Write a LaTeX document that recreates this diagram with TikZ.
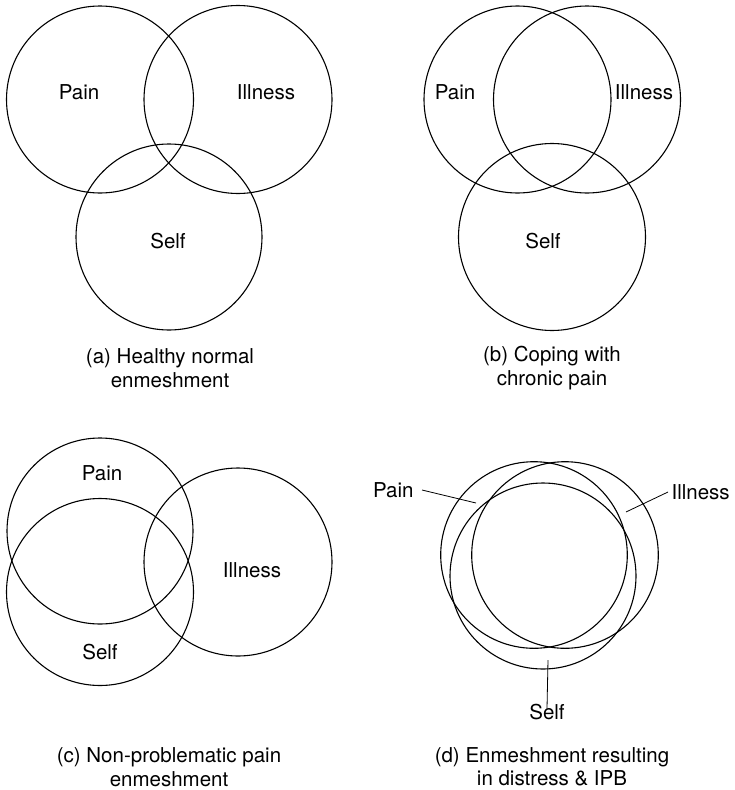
\documentclass[tikz,border=0pt]{standalone}
\usepackage{fontspec}
\setmainfont{TeX Gyre Heros}
\usetikzlibrary{positioning}

\begin{document}
\begin{tikzpicture}[x=1pt, y=-1pt, line width=1.1pt,
  lbl/.style={inner sep=0pt, font=\fontsize{20.5}{23.5}\selectfont},
  caption/.style={lbl, align=center}]

  \useasboundingbox (0,0) rectangle (734,790);

  % (a) Healthy normal enmeshment
  \draw (100,99.5) circle (93.5);
  \draw (238,99.5) circle (94);
  \draw (169,237) circle (93);
  \node[lbl] (painA) at (79,92) {Pain};
  \node[lbl] (illA) at (266,92) {Illness};
  \node[lbl] (selfA) at (168,241) {Self};
  \node[caption] (capA) at (170,368) {(a) Healthy normal\\enmeshment};

  % (b) Coping with chronic pain
  \draw (517.5,99.5) circle (93.5);
  \draw (587,99.5) circle (93.5);
  \draw (552,237) circle (93.5);
  \node[lbl] (painB) at (455,92) {Pain};
  \node[lbl] (illB) at (644,92) {Illness};
  \node[lbl] (selfB) at (543,241) {Self};
  \node[caption] (capB) at (552,368) {(b) Coping with\\chronic pain};

  % (c) Non-problematic pain enmeshment
  \draw (100,531) circle (93);
  \draw (100,592) circle (93.5);
  \draw (238,562) circle (94);
  \node[lbl] (painC) at (102,473) {Pain};
  \node[lbl] (illC) at (252,570) {Illness};
  \node[lbl] (selfC) at (100,652) {Self};
  \node[caption] (capC) at (169,767) {(c) Non-problematic pain\\enmeshment};

  % (d) Enmeshment resulting in distress & IPB
  \draw (534,555) circle (93.3);
  \draw (565,555) circle (93.3);
  \draw (543,576) circle (93);
  \node[lbl, anchor=east] (painD) at (414,490) {Pain};
  \node[lbl, anchor=west] (illD) at (671,492) {Illness};
  \node[lbl] (selfD) at (547,712) {Self};
  \node[caption] (capD) at (552,767) {(d) Enmeshment resulting\\in distress \& IPB};

  % Pointer lines
  \coordinate (painPt) at (476,503);
  \coordinate (illPt) at (626,512);
  \coordinate (selfPt) at (548,660);
  \draw[line width=0.8pt] ([xshift=8pt]painD.east) -- (painPt);
  \draw[line width=0.8pt] ([xshift=-3pt]illD.west) -- (illPt);
  \draw[line width=0.8pt] ([yshift=-5pt]selfD.north) -- (selfPt);

\end{tikzpicture}
\end{document}
